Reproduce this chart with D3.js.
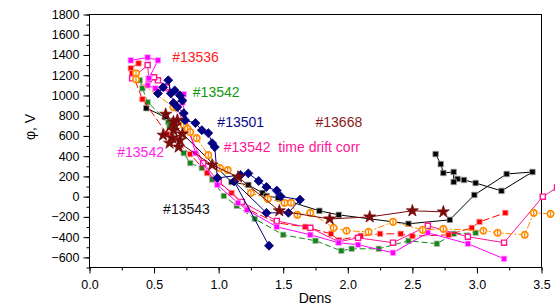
<!DOCTYPE html>
<html>
<head>
<meta charset="utf-8">
<script src="https://cdn.jsdelivr.net/npm/d3@7"></script>
<style>
  body { margin: 0; background: #fff; }
  svg { display: block; font-family: "Liberation Sans", Arial, sans-serif; }
</style>
</head>
<body>
<svg id="chart" width="555" height="306"></svg>
<script>
// values: [Dens, phi (V)]
const black13543 = [[0.44, 874], [0.59, 785], [1.10, 145], [1.23, 116], [1.34, 37], [1.37, 7], [1.46, -12],
  [1.78, -140], [1.93, -180], [2.47, -268], [2.79, -229], [2.98, 17], [3.23, 224], [3.43, 244], [3.19, 57],
  [2.99, 135], [2.90, 165], [2.85, 175], [2.82, 145], [2.82, 244], [2.74, 234], [2.72, 322], [2.68, 421]];
const green13542 = [[0.39, 1150], [0.41, 1070], [0.45, 933], [0.61, 736], [0.62, 690], [0.73, 430], [0.78, 332],
  [0.87, 283], [0.95, 170], [1.04, 7], [1.14, -91], [1.28, -219], [1.50, -377], [1.75, -436], [1.95, -535],
  [2.03, -515], [2.24, -515], [2.47, -436], [2.69, -465], [2.82, -367], [2.99, -357]];
const red13536 = [[0.38, 1317], [0.32, 1268], [0.33, 1220], [0.41, 963], [0.60, 620], [0.78, 420], [0.91, 234],
  [1.10, 37], [1.22, -121], [1.45, -259], [1.67, -298], [1.87, -367], [1.93, -430], [2.10, -387], [2.25, -367],
  [2.41, -367], [2.50, -390], [2.78, -377], [2.96, -308], [3.02, -249], [3.22, -160]];
const pinkDriftCorr = [[0.33, 1169], [0.45, 1300], [0.46, 1160], [0.53, 1150], [0.50, 1180], [0.60, 1080],
  [0.88, 332], [1.00, 150], [1.18, -52], [1.45, -240], [1.71, -308], [1.93, -446], [2.08, -407], [2.35, -455],
  [2.62, -288], [2.93, -396], [3.21, -455], [3.51, 0], [3.62, 90]];
const magenta13542 = [[0.32, 1347], [0.45, 1376], [0.53, 1347], [0.46, 1170], [0.45, 1100], [0.51, 1070],
  [0.70, 1012], [0.73, 1012], [0.72, 930], [0.82, 430], [0.99, 116], [1.15, -62], [1.22, -130], [1.45, -298],
  [1.71, -377], [1.93, -455], [2.08, -475], [2.35, -554], [2.62, -357], [2.93, -465], [3.21, -614]];
const orangeCircles = [[0.36, 1220], [0.36, 1160], [0.65, 884], [0.73, 707], [0.76, 670], [0.78, 638], [0.83, 578],
  [0.92, 411], [1.01, 283], [1.07, 263], [1.25, 37], [1.38, -22], [1.51, -62], [1.56, -60], [1.61, -180],
  [1.71, -160], [1.89, -308], [1.99, -337], [2.16, -347], [2.35, -249], [2.58, -328], [2.74, -318], [3.05, -337],
  [3.16, -357], [3.37, -377], [3.44, -160], [3.57, -170]];
const navy13501 = [[0.53, 1020], [0.57, 1081], [0.61, 1150], [0.63, 1020], [0.66, 1050], [0.70, 1000], [0.72, 950],
  [0.65, 925], [0.68, 885], [0.73, 825], [0.74, 756], [0.82, 727], [0.87, 657], [0.92, 628], [0.95, 529],
  [0.97, 490], [0.99, 185], [1.17, 214], [1.23, 230], [1.31, 155], [1.37, 96], [1.45, 60], [1.48, 2],
  [1.63, -30], [1.54, -160], [1.37, -160], [1.12, 150], [1.39, -485]];
const stars13668 = [[0.59, 815], [0.65, 740], [0.57, 608], [0.68, 756], [0.62, 529], [0.65, 657], [0.70, 559],
  [0.69, 490], [0.66, 700], [0.72, 620], [0.64, 580], [0.95, 313], [1.15, 195], [1.47, -140], [1.86, -220],
  [2.17, -200], [2.50, -140], [2.74, -150]];

const xTicks = [0, 0.5, 1, 1.5, 2, 2.5, 3, 3.5];
const yTicks = [-600, -400, -200, 0, 200, 400, 600, 800, 1000, 1200, 1400, 1600, 1800];

const labels = [
  { text: '#13536', x: 0.64, y: 1330, color: '#ff2020' },
  { text: '#13542', x: 0.80, y: 980, color: '#119911' },
  { text: '#13501', x: 0.99, y: 690, color: '#0a0a88' },
  { text: '#13668', x: 1.75, y: 690, color: '#8b1a1a' },
  { text: '#13542', x: 0.215, y: 395, color: '#ff22ee' },
  { text: '#13542  time drift corr', x: 1.04, y: 445, color: '#ff1493' },
  { text: '#13543', x: 0.57, y: -170, color: '#111' },
];

const svg = d3.select('#chart');
const x = d3.scaleLinear().domain([0, 3.5]).range([89.5, 541.5]);
const y = d3.scaleLinear().domain([-700, 1800]).range([267.5, 14.5]);

// frame
svg.append('rect')
  .attr('x', x(0)).attr('y', y(1800))
  .attr('width', x(3.5) - x(0)).attr('height', y(-700) - y(1800))
  .attr('fill', 'none').attr('stroke', '#000').attr('stroke-width', 1);

// axes
const yMinor = d3.range(-700, 1801, 100);
svg.append('g').attr('transform', `translate(${x(0)},0)`)
  .call(d3.axisLeft(y).tickValues(yMinor).tickSize(3).tickSizeOuter(0).tickFormat(''))
  .call((g) => g.select('.domain').remove());
svg.append('g').attr('transform', `translate(${x(0)},0)`)
  .call(d3.axisLeft(y).tickValues(yTicks).tickSize(6).tickSizeOuter(0).tickPadding(4).tickFormat(d3.format('d')))
  .call((g) => g.select('.domain').remove())
  .call((g) => g.selectAll('text').attr('font-size', 12.5).attr('font-family', 'Liberation Sans, Arial'));

const xMinor = d3.range(0, 3.51, 0.25);
svg.append('g').attr('transform', `translate(0,${y(-700)})`)
  .call(d3.axisBottom(x).tickValues(xMinor).tickSize(3).tickSizeOuter(0).tickFormat(''))
  .call((g) => g.select('.domain').remove());
svg.append('g').attr('transform', `translate(0,${y(-700)})`)
  .call(d3.axisBottom(x).tickValues(xTicks).tickSize(6).tickSizeOuter(0).tickPadding(7).tickFormat(d3.format('.1f')))
  .call((g) => g.select('.domain').remove())
  .call((g) => g.selectAll('text').attr('font-size', 12.5).attr('font-family', 'Liberation Sans, Arial'));

svg.append('text')
  .attr('x', 315).attr('y', 303)
  .attr('text-anchor', 'middle').attr('font-size', 14)
  .text('Dens');
svg.append('text')
  .attr('transform', 'translate(35,127) rotate(-90)')
  .attr('text-anchor', 'middle').attr('font-size', 14)
  .text('φ, V');

const line = d3.line().x((d) => x(d[0])).y((d) => y(d[1]));

function drawSeries(data, opts) {
  const g = svg.append('g');
  g.append('path')
    .attr('d', line(data))
    .attr('fill', 'none')
    .attr('stroke', opts.line)
    .attr('stroke-width', 1)
    .attr('stroke-dasharray', opts.dash || null);
  const sym = d3.symbol().type(opts.type).size(opts.size);
  g.selectAll('path.m').data(data).join('path')
    .attr('class', 'm')
    .attr('d', sym)
    .attr('transform', (d) => `translate(${x(d[0])},${y(d[1])})${opts.rotate ? ' rotate(45)' : ''}`)
    .attr('fill', opts.fill)
    .attr('stroke', opts.stroke)
    .attr('stroke-width', opts.strokeWidth || 0.8);
  return g;
}

drawSeries(black13543, { type: d3.symbolSquare, size: 30, fill: '#000', stroke: '#999', line: '#000' });
drawSeries(green13542, { type: d3.symbolSquare, size: 30, fill: '#118811', stroke: '#bbb', line: '#118811', dash: '6,3' });
drawSeries(red13536, { type: d3.symbolSquare, size: 30, fill: '#ff0000', stroke: '#ffaaaa', line: '#ff0000', dash: '8,3' });
drawSeries(pinkDriftCorr, { type: d3.symbolSquare, size: 26, fill: '#fff', stroke: '#ff1493', strokeWidth: 1.4, line: '#ff1493' });
drawSeries(magenta13542, { type: d3.symbolSquare, size: 30, fill: '#ff00ff', stroke: '#ffaaff', line: '#ff00ff' });
const og = drawSeries(orangeCircles, { type: d3.symbolCircle, size: 32, fill: '#fff', stroke: '#ff8c00', strokeWidth: 1.7, line: '#ff8c00', dash: '7,2,2,2' });
og.selectAll('line.bar').data(orangeCircles).join('line')
  .attr('x1', (d) => x(d[0])).attr('x2', (d) => x(d[0]))
  .attr('y1', (d) => y(d[1]) - 2.2).attr('y2', (d) => y(d[1]) + 2.2)
  .attr('stroke', '#ff8c00').attr('stroke-width', 1.3);
drawSeries(navy13501, { type: d3.symbolSquare, size: 40, rotate: true, fill: '#000080', stroke: '#000080', line: '#000080' });
drawSeries(stars13668, { type: d3.symbolStar, size: 45, fill: '#7a0a0a', stroke: '#7a0a0a', line: '#7a0a0a' });

svg.selectAll('text.lab').data(labels).join('text')
  .attr('class', 'lab')
  .attr('x', (d) => x(d.x)).attr('y', (d) => y(d.y))
  .attr('fill', (d) => d.color)
  .attr('font-size', 14)
  .attr('xml:space', 'preserve')
  .style('white-space', 'pre')
  .text((d) => d.text);
</script>
</body>
</html>
